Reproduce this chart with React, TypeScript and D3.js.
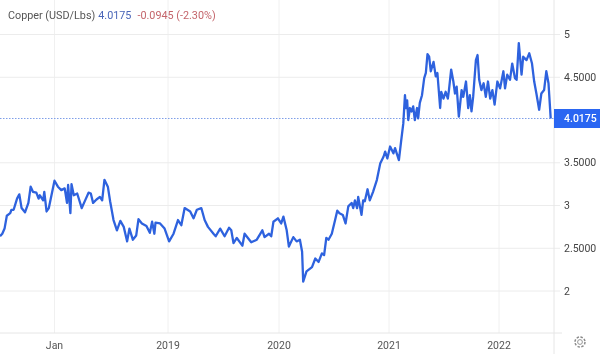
import React, { useEffect, useRef } from "react";
import * as d3 from "d3";

const years = [2017.52,2017.54,2017.56,2017.58,2017.61,2017.62,2017.64,2017.67,2017.69,2017.71,2017.74,2017.77,2017.79,2017.81,2017.84,2017.86,2017.87,2017.90,2017.91,2017.93,2017.95,2018.00,2018.03,2018.06,2018.09,2018.11,2018.12,2018.14,2018.15,2018.17,2018.20,2018.24,2018.27,2018.30,2018.32,2018.34,2018.37,2018.40,2018.42,2018.44,2018.47,2018.49,2018.52,2018.55,2018.58,2018.61,2018.64,2018.66,2018.69,2018.72,2018.74,2018.77,2018.81,2018.84,2018.86,2018.88,2018.89,2018.93,2018.97,2019.01,2019.05,2019.09,2019.12,2019.15,2019.20,2019.23,2019.26,2019.30,2019.33,2019.36,2019.41,2019.43,2019.47,2019.51,2019.55,2019.57,2019.59,2019.62,2019.67,2019.69,2019.75,2019.80,2019.85,2019.87,2019.91,2019.93,2019.95,2019.99,2020.02,2020.04,2020.07,2020.09,2020.13,2020.16,2020.19,2020.21,2020.22,2020.25,2020.30,2020.33,2020.36,2020.39,2020.41,2020.43,2020.45,2020.48,2020.51,2020.53,2020.55,2020.58,2020.605,2020.63,2020.66,2020.675,2020.69,2020.71,2020.72,2020.75,2020.765,2020.78,2020.805,2020.825,2020.855,2020.89,2020.92,2020.95,2020.965,2020.985,2021.01,2021.04,2021.055,2021.09,2021.11,2021.13,2021.145,2021.155,2021.165,2021.175,2021.19,2021.205,2021.22,2021.235,2021.255,2021.265,2021.28,2021.30,2021.32,2021.335,2021.35,2021.365,2021.38,2021.405,2021.425,2021.44,2021.465,2021.475,2021.495,2021.515,2021.535,2021.545,2021.565,2021.585,2021.60,2021.615,2021.635,2021.66,2021.675,2021.70,2021.72,2021.735,2021.75,2021.765,2021.79,2021.805,2021.82,2021.84,2021.86,2021.88,2021.90,2021.92,2021.94,2021.96,2021.985,2022.01,2022.04,2022.055,2022.075,2022.10,2022.12,2022.145,2022.16,2022.18,2022.205,2022.22,2022.25,2022.275,2022.30,2022.32,2022.34,2022.365,2022.385,2022.41,2022.43,2022.45,2022.47];
const prices = [2.64,2.67,2.73,2.88,2.91,2.95,2.95,3.08,3.13,2.97,2.92,3.03,3.22,3.16,3.15,3.08,3.12,3.06,3.16,2.93,2.97,3.29,3.22,3.18,3.20,3.03,3.24,2.91,3.25,3.12,3.14,2.97,3.06,3.15,3.14,3.03,3.07,3.10,3.06,3.30,3.22,3.05,2.83,2.71,2.82,2.75,2.58,2.73,2.60,2.65,2.84,2.79,2.76,2.68,2.81,2.67,2.80,2.79,2.73,2.58,2.67,2.83,2.77,2.97,2.93,2.85,2.95,2.97,2.83,2.75,2.67,2.64,2.73,2.64,2.74,2.71,2.56,2.62,2.53,2.67,2.57,2.60,2.71,2.63,2.67,2.64,2.81,2.85,2.79,2.87,2.71,2.52,2.63,2.58,2.60,2.46,2.11,2.23,2.28,2.38,2.34,2.44,2.42,2.62,2.60,2.67,2.83,2.94,2.91,2.89,2.79,2.99,3.03,2.97,3.06,2.97,3.10,2.89,3.06,3.05,3.19,3.06,3.16,3.30,3.49,3.57,3.63,3.55,3.69,3.61,3.67,3.53,3.75,3.96,4.29,4.14,4.23,4.00,4.14,4.10,4.16,4.00,4.14,4.02,4.20,4.29,4.49,4.55,4.77,4.74,4.57,4.68,4.51,4.55,4.14,4.33,4.25,4.33,4.25,4.35,4.59,4.45,4.31,4.39,4.04,4.35,4.27,4.45,4.14,4.29,4.10,4.27,4.70,4.76,4.47,4.35,4.43,4.27,4.45,4.25,4.35,4.18,4.45,4.37,4.57,4.37,4.53,4.47,4.66,4.49,4.47,4.90,4.53,4.74,4.70,4.78,4.66,4.45,4.31,4.12,4.31,4.35,4.57,4.43,4.0175];

const xTickYears = [2018, 2019, 2020, 2021, 2022];
const xTickLabels = ["Jan", "2019", "2020", "2021", "2022"];
const yTickValues = [5, 4.5, 3.5, 3, 2.5, 2];
const yTickLabels = ["5", "4.5000", "3.5000", "3", "2.5000", "2"];
const lastPrice = 4.0175;
const titleName = "Copper (USD/Lbs)";
const titlePrice = "4.0175";
const titleChange = "-0.0945 (-2.30%)";

const FONT = "Roboto, 'Open Sans', sans-serif";

export default function App() {
  const ref = useRef<SVGSVGElement>(null);
  useEffect(() => {
    const svg = d3.select(ref.current);
    svg.selectAll("*").remove();
    const x = d3.scaleLinear().domain(xTickYears).range([54.5, 168, 279, 389, 499]);
    const y = d3.scaleLinear().domain([2, 5]).range([291, 34.5]);
    const axisX = 554;
    const bottom = 333;
    const grid = "#ececec";

    xTickYears.forEach((t, i) => {
      svg.append("line").attr("x1", x(t)).attr("x2", x(t)).attr("y1", 0).attr("y2", bottom).attr("stroke", "#f0f0f0");
      svg.append("text").attr("x", x(t)).attr("y", 349).attr("text-anchor", "middle")
        .attr("font-family", FONT).attr("font-size", 10.5).attr("fill", "#555").text(xTickLabels[i]);
    });
    yTickValues.forEach((v, i) => {
      svg.append("line").attr("x1", 0).attr("x2", 560).attr("y1", y(v)).attr("y2", y(v)).attr("stroke", grid);
      svg.append("text").attr("x", 564).attr("y", y(v) + 3.5).attr("font-family", FONT).attr("font-size", 10.5)
        .attr("fill", "#444").text(yTickLabels[i]);
    });
    svg.append("line").attr("x1", axisX).attr("x2", axisX).attr("y1", 0).attr("y2", 354).attr("stroke", "#e6e6e6");
    svg.append("line").attr("x1", 0).attr("x2", 562).attr("y1", bottom).attr("y2", bottom).attr("stroke", "#e6e6e6");

    svg.append("line").attr("x1", 0).attr("x2", axisX).attr("y1", y(lastPrice)).attr("y2", y(lastPrice))
      .attr("stroke", "#7f9fe8").attr("stroke-dasharray", "1.5 1.5");

    const line = d3.line<number>().x((_, i) => x(years[i])).y((d) => y(d));
    svg.append("path").attr("d", line(prices)).attr("fill", "none").attr("stroke", "#2e62de")
      .attr("stroke-width", 2.3).attr("stroke-linejoin", "round");

    svg.append("rect").attr("x", axisX).attr("y", y(lastPrice) - 9.5).attr("width", 46).attr("height", 19).attr("fill", "#2a66f2");
    svg.append("text").attr("x", 564).attr("y", y(lastPrice) + 3.5).attr("font-family", FONT).attr("font-size", 10.5)
      .attr("font-weight", 500).attr("fill", "#fff").text(titlePrice);

    const title = svg.append("text").attr("x", 8).attr("y", 19).attr("font-family", FONT).attr("font-size", 10.8);
    title.append("tspan").attr("fill", "#555").text(titleName);
    title.append("tspan").attr("dx", 3).attr("fill", "#4a66b8").text(titlePrice);
    title.append("tspan").attr("dx", 6).attr("fill", "#c4656b").text(titleChange);

    const gear = svg.append("g").attr("transform", "translate(580,342)").attr("fill", "none").attr("stroke", "#8a8a8a");
    gear.append("circle").attr("r", 5).attr("stroke-width", 1.5).attr("stroke-dasharray", "2.4 1.5");
    gear.append("circle").attr("r", 2.4).attr("stroke-width", 0.9);
  }, []);
  return <svg ref={ref} width={600} height={354} style={{ position: "absolute", left: 0, top: 0, background: "#fff", filter: "blur(0.35px)" }} />;
}
